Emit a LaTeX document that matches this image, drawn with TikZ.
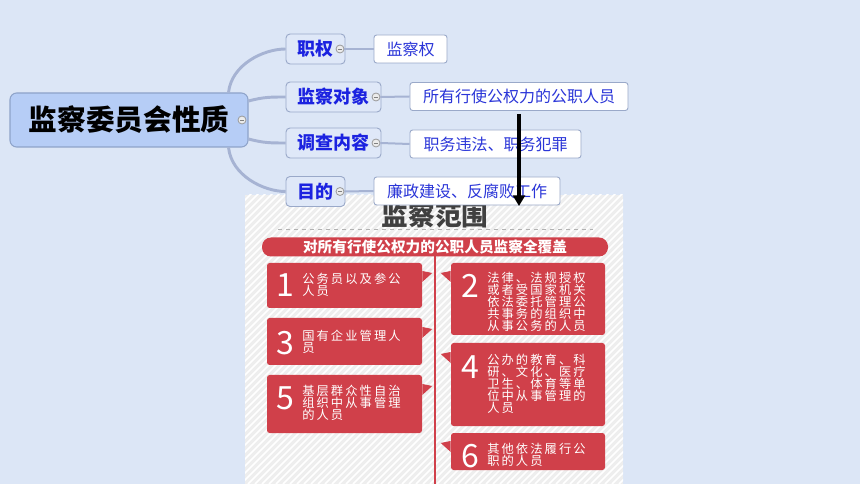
\documentclass[tikz,border=0pt]{standalone}
\usepackage{fontspec}
\setmainfont{Noto Sans CJK SC}
\usetikzlibrary{fit,calc,arrows.meta}

\definecolor{bgblue}{HTML}{DCE6F6}
\definecolor{mainfill}{HTML}{B6CDF6}
\definecolor{mainline}{HTML}{8EA3C9}
\definecolor{branchfill}{HTML}{DFE8F8}
\definecolor{branchline}{HTML}{9AA9C9}
\definecolor{linkcol}{HTML}{A6B3D3}
\definecolor{blue1}{HTML}{1B22E0}
\definecolor{blue2}{HTML}{2A35D8}
\definecolor{redbox}{HTML}{D0404A}
\definecolor{panelgray}{HTML}{EEEEEE}
\definecolor{titlegray}{HTML}{404040}

\newcommand\px[1]{#1*0.75pt}

\begin{document}
\begin{tikzpicture}[
        x=0.75pt, y=-0.75pt,
        mainnode/.style={rectangle, rounded corners=5pt, draw=mainline, fill=mainfill,
            line width=0.8pt, inner sep=0pt, font=\fontsize{21.5}{24}\selectfont\bfseries},
        branch/.style={rectangle, rounded corners=3pt, draw=branchline, fill=branchfill,
            line width=0.7pt, inner sep=0pt, minimum height=\px{30}, text=blue1,
            font=\fontsize{13.5}{15}\selectfont\bfseries},
        leaf/.style={rectangle, rounded corners=2pt, draw=branchline, fill=white,
            line width=0.7pt, inner sep=0pt, minimum height=\px{28}, text=blue2,
            font=\fontsize{12}{14}\selectfont},
        collapse/.style={circle, draw=gray!80, fill=gray!15, line width=0.6pt,
            minimum size=6pt, inner sep=0pt,
            path picture={\draw[gray, line width=0.7pt]
                ([xshift=-1.6pt]path picture bounding box.center) --
                ([xshift=1.6pt]path picture bounding box.center);}},
        curveline/.style={draw=linkcol, line width=2.2pt},
        leafline/.style={draw=linkcol, line width=1.5pt},
        redcard/.style={rectangle, rounded corners=2pt, fill=redbox, inner sep=0pt},
        num/.style={text=white, inner sep=0pt, font=\fontsize{24}{24}\selectfont},
        cardtxt/.style={text=white, inner sep=0pt, align=left,
            font=\fontsize{9.2}{9}\selectfont\addfontfeature{LetterSpace=17}},
        banner/.style={rectangle, rounded corners=6.75pt, fill=redbox, inner sep=0pt,
            text=white, font=\fontsize{11}{12}\selectfont\bfseries},
        bigarrow/.style={line width=3pt, -{Triangle[length=8pt, width=9pt]}}
    ]
    \useasboundingbox (0,0) rectangle (860,484);
    \fill[bgblue] (0,0) rectangle (860,484);

    % picture of the supervision scope
    \fill[panelgray] (245,195) rectangle (623,484);
    \begin{scope}
        \clip (245,195) rectangle (623,484);
        \foreach \k in {-60,-53,...,640}
            \draw[white, line width=1.2pt] (\k,484) -- (\k+300,184);
    \end{scope}
    \node[text=titlegray, font=\fontsize{20}{22}\selectfont\bfseries] (title) at (435,215) {监察范围};
    \draw[gray!60, dashed, line width=0.6pt] (278,229) -- (593,229);
    \node[banner, minimum width=\px{346}, minimum height=\px{19}] (ban) at (435,247)
        {对所有行使公权力的公职人员监察全覆盖};
    \coordinate (axis) at (435,256);
    \draw[redbox, line width=1.5pt] (axis) -- (435,484);

    \node[redcard, fit={(267,263)(422,308)}] (c1) {};
    \node[redcard, fit={(451,263)(605,335)}] (c2) {};
    \node[redcard, fit={(267,318)(422,365)}] (c3) {};
    \node[redcard, fit={(451,343)(605,426)}] (c4) {};
    \node[redcard, fit={(267,375)(422,433)}] (c5) {};
    \node[redcard, fit={(451,433)(605,470)}] (c6) {};

    % little pointers towards the axis
    \foreach \c/\y in {c1/271,c3/327,c5/384}
        \fill[redbox] (\c.east |- 0,\y) -- ++(10,2) -- ++(-10,9) -- cycle;
    \foreach \c/\y in {c2/271,c4/352,c6/441}
        \fill[redbox] (\c.west |- 0,\y) -- ++(-10,2) -- ++(10,9) -- cycle;

    \node[num] (n1) at (285,285) {1};
    \node[num] (n2) at (470,286) {2};
    \node[num] (n3) at (285,343) {3};
    \node[num] (n4) at (470,367) {4};
    \node[num] (n5) at (285,398) {5};
    \node[num] (n6) at (470,456) {6};

    \node[cardtxt, anchor=west] (t1) at (302,285) {公务员以及参公\\人员};
    \node[cardtxt, anchor=west] (t2) at (487,302) {法律、法规授权\\或者受国家机关\\依法委托管理公\\共事务的组织中\\从事公务的人员};
    \node[cardtxt, anchor=west] (t3) at (302,342) {国有企业管理人\\员};
    \node[cardtxt, anchor=west] (t4) at (487,384) {公办的教育、科\\研、文化、医疗\\卫生、体育等单\\位中从事管理的\\人员};
    \node[cardtxt, anchor=west] (t5) at (302,403) {基层群众性自治\\组织中从事管理\\的人员};
    \node[cardtxt, anchor=west] (t6) at (487,455) {其他依法履行公\\职的人员};

    % mind map
    \node[mainnode, minimum width=\px{238}, minimum height=\px{54}] (main) at (129,120) {监察委员会性质};
    \node[collapse] (m0) at (242,120) {};

    \node[branch, minimum width=\px{59}] (zq) at (315.5,49)  {职权};
    \node[branch, minimum width=\px{95}] (dx) at (333.5,97)  {监察对象};
    \node[branch, minimum width=\px{95}] (nr) at (333.5,143) {调查内容};
    \node[branch, minimum width=\px{59}] (md) at (315.5,191.5) {目的};

    \node[collapse] (k1) at (340,49) {};
    \node[collapse] (k2) at (376,97) {};
    \node[collapse] (k3) at (376,143) {};
    \node[collapse] (k4) at (340,191.5) {};

    \node[leaf, minimum width=\px{73}]  (l1) at (410.5,49)  {监察权};
    \node[leaf, minimum width=\px{218}] (l2) at (519,96.5)  {所有行使公权力的公职人员};
    \node[leaf, minimum width=\px{171}] (l3) at (495.5,144) {职务违法、职务犯罪};
    \node[leaf, minimum width=\px{186}] (l4) at (467,191)   {廉政建设、反腐败工作};

    \draw[curveline] ($(main.north east)+(-20,0)$) .. controls +(3,-28) and +(-22,0) .. (zq.west);
    \draw[curveline] ($(main.east)+(0,-19)$) .. controls +(15,-4) and +(-15,0) .. (dx.west);
    \draw[curveline] ($(main.east)+(0,19)$) .. controls +(15,4) and +(-15,0) .. (nr.west);
    \draw[curveline] ($(main.south east)+(-20,0)$) .. controls +(3,28) and +(-22,0) .. (md.west);

    \draw[leafline] (k1.east) -- (l1.west);
    \draw[leafline] (k2.east) -- (l2.west);
    \draw[leafline] (k3.east) -- (l3.west);
    \draw[leafline] (k4.east) -- (l4.west);

    \coordinate (atop) at (519,114);
    \coordinate (abot) at (519,206);
    \draw[bigarrow] (atop) -- (abot);
\end{tikzpicture}
\end{document}
